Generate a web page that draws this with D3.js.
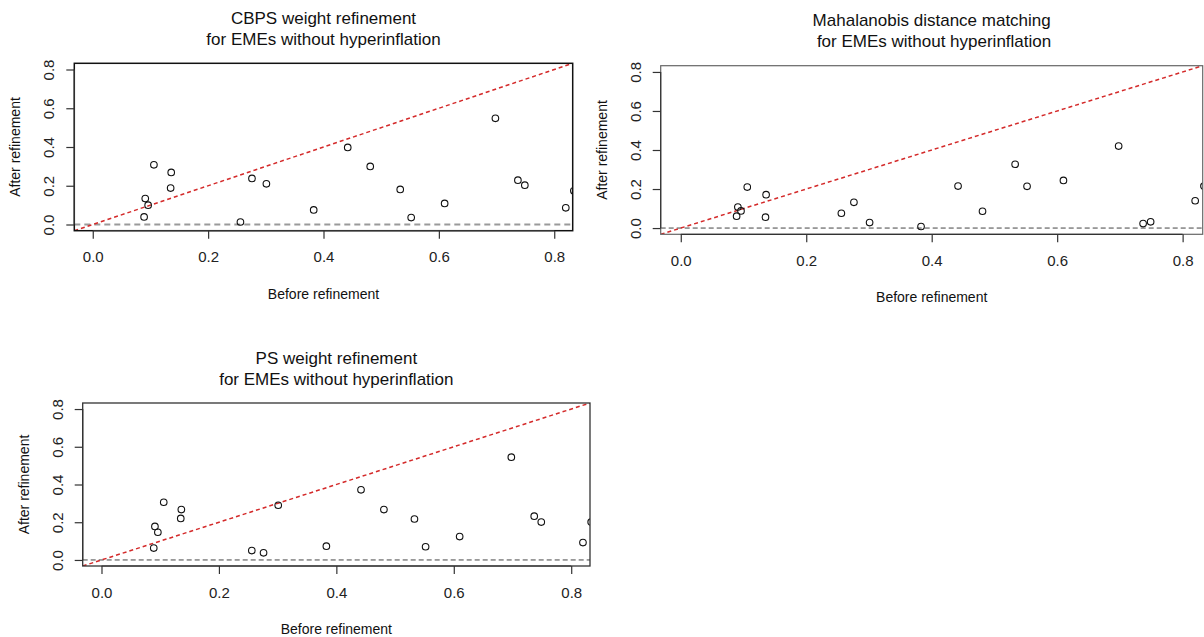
<!DOCTYPE html>
<html>
<head>
<meta charset="utf-8">
<script src="https://cdn.jsdelivr.net/npm/d3@7"></script>
<style>
  body { margin: 0; background: #fff; }
  svg { font-family: "Liberation Sans", Arial, sans-serif; }
</style>
</head>
<body>
<svg id="chart" width="1204" height="637"></svg>
<script>
// before refinement balance (same in every panel)
var before = [0.089, 0.091, 0.096, 0.106, 0.135, 0.136, 0.256, 0.276, 0.301, 0.383,
              0.442, 0.481, 0.533, 0.552, 0.610, 0.698, 0.737, 0.749, 0.820, 0.834];
// after refinement, one list per method
var after_cbps = [0.039, 0.134, 0.100, 0.308, 0.188, 0.269, 0.013, 0.238, 0.210, 0.075,
                  0.398, 0.300, 0.181, 0.036, 0.109, 0.548, 0.229, 0.203, 0.086, 0.174];
var after_mdm  = [0.061, 0.108, 0.088, 0.210, 0.056, 0.171, 0.076, 0.132, 0.028, 0.008,
                  0.215, 0.086, 0.327, 0.214, 0.244, 0.420, 0.023, 0.032, 0.140, 0.215];
var after_ps   = [0.063, 0.178, 0.147, 0.306, 0.220, 0.267, 0.050, 0.038, 0.290, 0.073,
                  0.372, 0.267, 0.217, 0.070, 0.124, 0.545, 0.232, 0.201, 0.092, 0.201];
var tick_values = [0.0, 0.2, 0.4, 0.6, 0.8];
var titles = [["CBPS weight refinement", "for EMEs without hyperinflation"],
              ["Mahalanobis distance matching", " for EMEs without hyperinflation"],
              ["PS weight refinement", "for EMEs without hyperinflation"]];
var x_title = "Before refinement";
var y_title = "After refinement";

var svg = d3.select("#chart");

// plot regions and line styles for each panel
var panels = [
    {after: after_cbps, title: titles[0], left: 74.3, right: 572.7, top: 63.3, bottom: 230.7,
     box: "#111", boxw: 1.5, zero: "#9a9a9a", zerow: 2, zerodash: "6,4"},
    {after: after_mdm, title: titles[1], left: 660.7, right: 1202.7, top: 65.7, bottom: 234.3,
     box: "#666", boxw: 1.2, zero: "#444", zerow: 1, zerodash: "5,3"},
    {after: after_ps, title: titles[2], left: 82.7, right: 590, top: 403, bottom: 566,
     box: "#333", boxw: 1.3, zero: "#444", zerow: 1, zerodash: "5,3"}
];

function draw_panel(p, idx) {
    // R's default 4% extension around [0, 0.8]
    var lim = [-0.032, 0.832];
    var xscale = d3.scaleLinear().domain(lim).range([p.left, p.right]);
    var yscale = d3.scaleLinear().domain(lim).range([p.bottom, p.top]);
    var g = svg.append("g").attr("class", "panel");

    g.append("clipPath")
        .attr("id", "clip" + idx)
        .append("rect")
        .attr("x", p.left).attr("y", p.top)
        .attr("width", p.right - p.left).attr("height", p.bottom - p.top);

    var plot = g.append("g").attr("clip-path", "url(#clip" + idx + ")");

    // horizontal reference at zero
    plot.append("line")
        .attr("x1", p.left).attr("x2", p.right)
        .attr("y1", yscale(0)).attr("y2", yscale(0))
        .style("stroke", p.zero)
        .style("stroke-width", p.zerow)
        .style("stroke-dasharray", p.zerodash);

    // 45 degree line
    plot.append("line")
        .attr("x1", xscale(lim[0])).attr("y1", yscale(lim[0]))
        .attr("x2", xscale(lim[1])).attr("y2", yscale(lim[1]))
        .style("stroke", "#d42a2a")
        .style("stroke-width", 1.5)
        .style("stroke-dasharray", "4,3");

    plot.selectAll(".pt")
        .data(before.map(function(d, i) { return {x: d, y: p.after[i]}; }))
        .enter()
        .append("circle")
        .attr("class", "pt")
        .attr("cx", function(d) { return xscale(d.x); })
        .attr("cy", function(d) { return yscale(d.y); })
        .attr("r", 3.3)
        .style("fill", "none")
        .style("stroke", "#111")
        .style("stroke-width", 1.1);

    g.append("rect")
        .attr("x", p.left).attr("y", p.top)
        .attr("width", p.right - p.left).attr("height", p.bottom - p.top)
        .style("fill", "none")
        .style("stroke", p.box)
        .style("stroke-width", p.boxw);

    var xaxis = d3.axisBottom(xscale)
                  .tickValues(tick_values)
                  .tickFormat(d3.format(".1f"))
                  .tickSize(8)
                  .tickSizeOuter(0);
    var yaxis = d3.axisLeft(yscale)
                  .tickValues(tick_values)
                  .tickFormat(d3.format(".1f"))
                  .tickSize(8)
                  .tickSizeOuter(0);

    var gx = g.append("g")
              .attr("transform", "translate(0," + p.bottom + ")")
              .call(xaxis);
    var gy = g.append("g")
              .attr("transform", "translate(" + p.left + ",0)")
              .call(yaxis);

    [gx, gy].forEach(function(a) {
        a.select(".domain").remove();
        a.selectAll(".tick line").style("stroke", "#333").style("stroke-width", 1.2);
        a.selectAll(".tick text")
         .style("font-size", "15px")
         .style("fill", "#222");
    });
    gx.selectAll(".tick text").attr("y", 21);
    gy.selectAll(".tick text")
      .attr("x", 0)
      .attr("dy", 0)
      .attr("text-anchor", "middle")
      .attr("transform", "translate(-20,0) rotate(-90)");

    // axis lines from first to last tick
    g.append("line")
        .attr("x1", xscale(0)).attr("x2", xscale(0.8))
        .attr("y1", p.bottom).attr("y2", p.bottom)
        .style("stroke", "#333").style("stroke-width", 1.2);
    g.append("line")
        .attr("x1", p.left).attr("x2", p.left)
        .attr("y1", yscale(0)).attr("y2", yscale(0.8))
        .style("stroke", "#333").style("stroke-width", 1.2);

    var cx = (p.left + p.right) / 2;
    var cy = (p.top + p.bottom) / 2;

    g.append("text")
        .attr("x", cx).attr("y", p.bottom + 68)
        .attr("text-anchor", "middle")
        .style("font-size", "14px")
        .style("fill", "#111")
        .text(x_title);

    g.append("text")
        .attr("text-anchor", "middle")
        .attr("transform", "translate(" + (p.left - 54) + "," + cy + ") rotate(-90)")
        .style("font-size", "14px")
        .style("fill", "#111")
        .text(y_title);

    g.selectAll(".title")
        .data(p.title)
        .enter()
        .append("text")
        .attr("class", "title")
        .attr("x", cx)
        .attr("y", function(d, i) { return p.top - 39.5 + i * 21; })
        .attr("text-anchor", "middle")
        .attr("xml:space", "preserve")
        .style("font-size", "17px")
        .style("fill", "#111")
        .style("white-space", "pre")
        .text(function(d) { return d; });
}

panels.forEach(draw_panel);
</script>
</body>
</html>
